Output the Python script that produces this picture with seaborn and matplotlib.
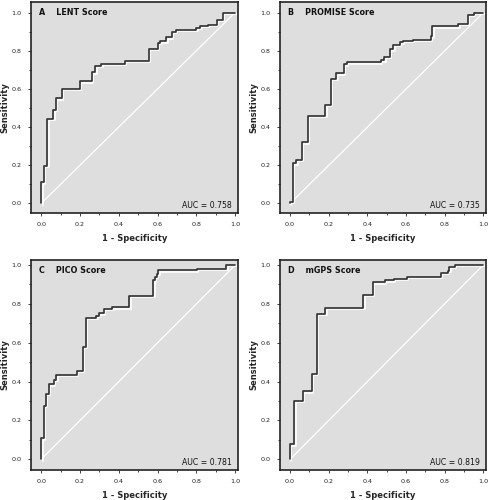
import matplotlib
matplotlib.use("Agg")
import matplotlib.pyplot as plt
import matplotlib.patheffects as pe
from matplotlib.ticker import MultipleLocator
import pandas as pd
import seaborn as sns

# ROC step corners: at each fpr the curve jumps up to tpr, then runs right
fpr_a = [0, 0, 0.014, 0.031, 0.062, 0.076, 0.107, 0.2, 0.26, 0.28, 0.31, 0.43, 0.555,
         0.6, 0.614, 0.645, 0.672, 0.693, 0.8, 0.82, 0.862, 0.907, 0.938, 1.0]
tpr_a = [0, 0.11, 0.196, 0.443, 0.49, 0.55, 0.6, 0.64, 0.686, 0.72, 0.73, 0.746, 0.81,
         0.84, 0.85, 0.87, 0.9, 0.908, 0.92, 0.93, 0.937, 0.963, 1.0, 1.0]

fpr_b = [0, 0, 0.014, 0.033, 0.06, 0.092, 0.182, 0.21, 0.24, 0.279, 0.293, 0.47, 0.487,
         0.518, 0.535, 0.567, 0.584, 0.636, 0.73, 0.737, 0.872, 0.92, 0.95, 1.0]
tpr_b = [0, 0.01, 0.21, 0.228, 0.32, 0.46, 0.517, 0.653, 0.682, 0.731, 0.74, 0.752, 0.77,
         0.808, 0.834, 0.845, 0.855, 0.86, 0.878, 0.93, 0.944, 0.99, 1.0, 1.0]

fpr_c = [0, 0, 0.014, 0.024, 0.041, 0.065, 0.079, 0.185, 0.216, 0.229, 0.284, 0.298,
         0.322, 0.366, 0.455, 0.579, 0.586, 0.596, 0.603, 0.801, 0.955, 1.0]
tpr_c = [0, 0.108, 0.274, 0.336, 0.386, 0.408, 0.434, 0.455, 0.58, 0.729, 0.739, 0.751,
         0.775, 0.782, 0.842, 0.922, 0.94, 0.954, 0.973, 0.98, 1.0, 1.0]

fpr_d = [0, 0, 0.021, 0.065, 0.113, 0.137, 0.182, 0.38, 0.428, 0.49, 0.538, 0.603,
         0.78, 0.818, 0.825, 0.853, 1.0]
tpr_d = [0, 0.077, 0.302, 0.35, 0.439, 0.748, 0.779, 0.847, 0.911, 0.921, 0.928, 0.94,
         0.96, 0.969, 0.99, 1.0, 1.0]

letters = ["A", "B", "C", "D"]
scores = ["LENT Score", "PROMISE Score", "PICO Score", "mGPS Score"]
aucs = ["0.758", "0.735", "0.781", "0.819"]

sns.set_style("ticks")
plt.rcParams["font.family"] = ["DejaVu Sans"]

fig = plt.figure(figsize=(4.98, 5.0), dpi=100)

# axes boxes in figure fraction
boxes = [
    [0.062, 0.574, 0.416, 0.422],
    [0.562, 0.574, 0.414, 0.422],
    [0.062, 0.060, 0.416, 0.420],
    [0.562, 0.060, 0.414, 0.420],
]
ylims = [(-0.05, 1.055), (-0.05, 1.057), (-0.055, 1.026), (-0.055, 1.026)]

curves = [(fpr_a, tpr_a), (fpr_b, tpr_b), (fpr_c, tpr_c), (fpr_d, tpr_d)]

for i, (fpr, tpr) in enumerate(curves):
    ax = fig.add_axes(boxes[i])
    ax.set_facecolor("#dedede")
    df = pd.DataFrame({"fpr": fpr, "tpr": tpr})

    # reference diagonal
    sns.lineplot(x=[0, 1], y=[0, 1], color="white", lw=0.9, ax=ax)

    sns.lineplot(data=df, x="fpr", y="tpr", sort=False, estimator=None,
                 drawstyle="steps-post", color="#303030", lw=1.2, ax=ax,
                 path_effects=[pe.SimpleLineShadow(offset=(1.0, -1.0), shadow_color="white",
                                                   alpha=1.0), pe.Normal()])

    ax.set_xlim(-0.053, 1.015)
    ax.set_ylim(*ylims[i])
    ax.xaxis.set_major_locator(MultipleLocator(0.2))
    ax.xaxis.set_minor_locator(MultipleLocator(0.1))
    ax.yaxis.set_major_locator(MultipleLocator(0.2))
    ax.yaxis.set_minor_locator(MultipleLocator(0.1))
    ax.tick_params(which="major", length=2.5, width=0.6, labelsize=4.6,
                   colors="#222222", pad=4)
    ax.tick_params(which="minor", length=1.5, width=0.6)
    ax.xaxis.set_major_formatter(plt.FuncFormatter(lambda v, p: f"{v:.1f}"))
    ax.yaxis.set_major_formatter(plt.FuncFormatter(lambda v, p: f"{v:.1f}"))

    for s in ax.spines.values():
        s.set_visible(True)
        s.set_linewidth(1.2)
        s.set_color("#222222")

    ax.set_xlabel("1 - Specificity", fontsize=6, fontweight="bold", labelpad=5)
    ax.set_ylabel("Sensitivity", fontsize=6, fontweight="bold", labelpad=2)

    ax.text(0.04, 0.95, letters[i] + "    " + scores[i], transform=ax.transAxes,
            fontsize=5.8, fontweight="bold", va="center", ha="left", color="#111111")
    ax.text(0.97, 0.035, "AUC = " + aucs[i], transform=ax.transAxes,
            fontsize=5.6, va="center", ha="right", color="#111111")

fig.savefig("out.png", dpi=100)
